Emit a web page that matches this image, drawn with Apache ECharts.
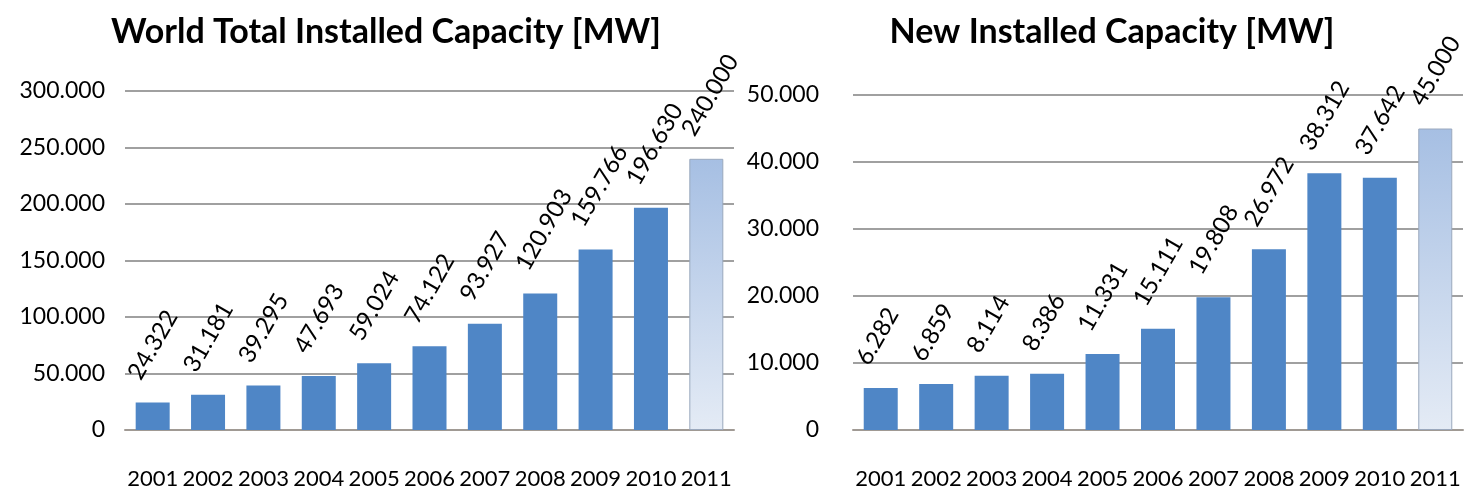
<!DOCTYPE html>
<html>
<head>
<meta charset="utf-8">
<script src="https://cdn.jsdelivr.net/npm/echarts@6/dist/echarts.min.js"></script>
<style>
html,body{margin:0;padding:0;background:#fff;}
#chart{width:1473px;height:498px;}
</style>
</head>
<body>
<div id="chart"></div>
<script>
var years = ['2001','2002','2003','2004','2005','2006','2007','2008','2009','2010','2011'];
var totalCapacity = [24322, 31181, 39295, 47693, 59024, 74122, 93927, 120903, 159766, 196630, 240000];
var newCapacity = [6282, 6859, 8114, 8386, 11331, 15111, 19808, 26972, 38312, 37642, 45000];
var leftTicks = {min: 0, max: 300000, interval: 50000};
var rightTicks = {min: 0, max: 50000, interval: 10000};

var FONT = 'Lato';
function fmt(v){ return String(v).replace(/\B(?=(\d{3})+(?!\d))/g, '.'); }

var barColor = '#4f86c6';
var lastStyle = {
  color: {type:'linear', x:0, y:0, x2:0, y2:1, colorStops:[{offset:0,color:'#a6bfe3'},{offset:1,color:'#e4ebf5'}]},
  borderColor: '#9aa8bd', borderWidth: 1
};
function buildData(arr){
  return arr.map(function(v,i){
    if(i === arr.length-1) return {value: v, itemStyle: lastStyle};
    return v;
  });
}
var valueLabel = {
  show: true, position: 'top', distance: 5, rotate: 60,
  align: 'left', verticalAlign: 'bottom', offset: [8, -14],
  fontFamily: FONT, fontSize: 24, color: '#000',
  formatter: function(p){ return fmt(p.value); }
};
function xAxis(idx){
  return {
    type: 'category', gridIndex: idx, data: years,
    axisLine: {lineStyle: {color: '#a09a94', width: 2}},
    axisTick: {show: false},
    axisLabel: {fontFamily: FONT, fontSize: 22, color: '#000', margin: 38, interval: 0}
  };
}
function yAxis(idx, t, margin){
  return {
    type: 'value', gridIndex: idx, min: t.min, max: t.max, interval: t.interval,
    axisLine: {show: false}, axisTick: {show: false},
    splitLine: {lineStyle: {color: '#a0a0a0', width: 2}},
    axisLabel: {fontFamily: FONT, fontSize: 23, color: '#000', margin: margin, formatter: fmt}
  };
}
var chart = echarts.init(document.getElementById('chart'));
chart.setOption({
  backgroundColor: '#fff',
  animation: false,
  title: [
    {text: 'World Total Installed Capacity [MW]', left: 381, top: 10, textAlign: 'center',
     textStyle: {fontFamily: FONT, fontWeight: 'bold', fontSize: 34, color: '#000'}},
    {text: 'New Installed Capacity [MW]', left: 1107, top: 10, textAlign: 'center',
     textStyle: {fontFamily: FONT, fontWeight: 'bold', fontSize: 34, color: '#000'}}
  ],
  grid: [
    {left: 125, right: 739, top: 91, bottom: 68},
    {left: 853, right: 10, top: 95, bottom: 68}
  ],
  xAxis: [xAxis(0), xAxis(1)],
  yAxis: [yAxis(0, leftTicks, 20), yAxis(1, rightTicks, 34)],
  series: [
    {type: 'bar', xAxisIndex: 0, yAxisIndex: 0, data: buildData(totalCapacity), barWidth: 34,
     itemStyle: {color: barColor}, label: valueLabel},
    {type: 'bar', xAxisIndex: 1, yAxisIndex: 1, data: buildData(newCapacity), barWidth: 34,
     itemStyle: {color: barColor}, label: valueLabel}
  ]
});
</script>
</body>
</html>
